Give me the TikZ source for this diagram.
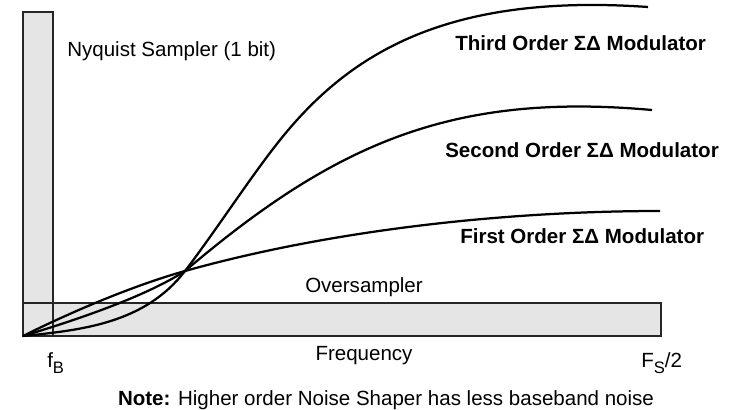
\documentclass[tikz,border=0pt]{standalone}
\usepackage{fontspec}
\setmainfont{Liberation Sans}
\newcommand{\lowsub}[1]{\raisebox{-4.3pt}{\fontsize{11.8}{13}\selectfont #1}}
\begin{document}
\begin{tikzpicture}[x=0.025cm,y=-0.025cm]
\tikzstyle{every node}+=[inner sep=0pt,font=\fontsize{14.6}{17}\selectfont]
\tikzstyle{band}=[draw=black!85,line width=1pt,fill=black!10]
\tikzstyle{noise}=[black,line width=1.6pt,line join=round]
\useasboundingbox (0,0) rectangle (729,409);
\draw [band] (23,12) rectangle (53,336);
\draw [band] (23,303) rectangle (661,336);
\draw [draw=black!85,line width=1pt] (23,12) rectangle (53,336);
\coordinate (origin) at (23,336);
\coordinate (cross) at (185,271);
\coordinate (bend) at (280,140);
% third order
\draw [noise] (origin) .. controls (83,330) and (145,323) .. (cross)
  .. controls (215,232) and (250,177.5) .. (bend)
  .. controls (350,52.5) and (448,-7) .. (648,7);
% second order
\draw [noise] (origin) .. controls (73,321) and (145,297) .. (cross)
  .. controls (335,143.5) and (452,92) .. (652,110);
% first order
\draw [noise] (origin) .. controls (73,311) and (135,285) .. (cross)
  .. controls (335,229) and (510,211) .. (660,211);
\node (nyq) [anchor=base west] at (67,56) {Nyquist Sampler (1 bit)};
\node (third) [anchor=base west,font=\fontsize{14.6}{17}\selectfont\bfseries] at (455,50) {Third Order ΣΔ Modulator};
\node (second) [anchor=base west,font=\fontsize{14.6}{17}\selectfont\bfseries] at (445,157) {Second Order ΣΔ Modulator};
\node (first) [anchor=base west,font=\fontsize{14.6}{17}\selectfont\bfseries] at (460,243) {First Order ΣΔ Modulator};
\node (over) [anchor=base] at (364,292) {Oversampler};
\node (freq) [anchor=base] at (364,360) {Frequency};
\node (fb) [anchor=base west] at (47,367) {f\lowsub{B}};
\node (fs) [anchor=base west] at (641,367) {F\lowsub{S}/2};
\node (note) [anchor=base] at (386,405) {\textbf{Note:} Higher order Noise Shaper has less baseband noise};
\end{tikzpicture}
\end{document}
